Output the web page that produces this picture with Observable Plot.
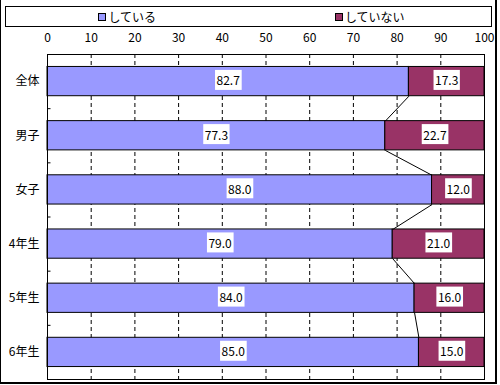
<!DOCTYPE html>
<html>
<head>
<meta charset="utf-8">
<script src="https://cdn.jsdelivr.net/npm/d3@7"></script>
<script src="https://cdn.jsdelivr.net/npm/@observablehq/plot@0.6"></script>
<style>
  html, body { margin: 0; padding: 0; background: #fff; }
  #wrap { position: relative; width: 500px; height: 385px; overflow: hidden; font-family: "Noto Sans CJK JP", sans-serif; }
  #wrap svg { position: absolute; left: 0; top: 0; }
  #legend { position: absolute; left: 5px; top: 6px; width: 487px; height: 21px; box-sizing: border-box; border: 1px solid #000; display: flex; background: #fff; }
  #legend .item { flex: 1; display: flex; align-items: center; justify-content: center; font-size: 12px; line-height: 1; }
  #legend .sw { width: 6px; height: 6px; border: 1px solid #000; margin-right: 2px; }
  #border { position: absolute; left: 0; top: -1px; width: 497px; height: 385px; box-sizing: border-box; border-left: 1px solid #000; border-top: 1px solid #000; border-right: 2px solid #000; border-bottom: 2px solid #000; pointer-events: none; }
</style>
</head>
<body>
<div id="wrap"></div>
<script>
const categories = ["全体", "男子", "女子", "4年生", "5年生", "6年生"];
const doing = [82.7, 77.3, 88.0, 79.0, 84.0, 85.0];
const notDoing = [17.3, 22.7, 12.0, 21.0, 16.0, 15.0];
const seriesNames = ["している", "していない"];
const seriesColors = ["#9999FF", "#993366"];
const xTicks = [0, 10, 20, 30, 40, 50, 60, 70, 80, 90, 100];

const n = categories.length;
const half = 0.27; // half bar thickness in category units

const segments = [];
categories.forEach((c, i) => {
  segments.push({i, cat: c, series: seriesNames[0], x1: 0, x2: doing[i], value: doing[i]});
  segments.push({i, cat: c, series: seriesNames[1], x1: doing[i], x2: doing[i] + notDoing[i], value: notDoing[i]});
});
const boundaries = d3.range(n - 1).map(i => i + 0.5);
const links = d3.range(n - 1).map(i => ({i}));

const svg = Plot.plot({
  width: 500,
  height: 385,
  marginLeft: 47,
  marginRight: 16,
  marginTop: 54,
  marginBottom: 6,
  style: { fontFamily: "'Noto Sans CJK JP', sans-serif", fontSize: "12px", background: "transparent", color: "#000" },
  x: { domain: [0, 100], axis: "top", ticks: xTicks, tickSize: 0, tickPadding: 13, label: null, tickFormat: d => d },
  y: { domain: [n - 0.5, -0.5], axis: null },
  color: { domain: seriesNames, range: seriesColors },
  marks: [
    Plot.ruleX(xTicks.filter(t => t > 0 && t < 100), { stroke: "#000", strokeDasharray: "4,3" }),
    Plot.ruleY(boundaries, { x1: 0, x2: 0.8, stroke: "#000" }),
    Plot.rect(segments, { x1: "x1", x2: "x2", y1: d => d.i - half, y2: d => d.i + half, fill: "series", stroke: "#000", strokeWidth: 1 }),
    Plot.link(links, { x1: d => doing[d.i], y1: d => d.i + half, x2: d => doing[d.i + 1], y2: d => d.i + 1 - half, stroke: "#000" }),
    Plot.text(segments, { x: d => (d.x1 + d.x2) / 2, y: "i", text: d => d.value.toFixed(1), fill: "#000", fontSize: 12 }),
    Plot.text(categories, { x: 0, y: (d, i) => i, text: d => d, textAnchor: "end", dx: -8, fill: "#000", fontSize: 12 }),
    Plot.frame({ stroke: "#000" })
  ]
});

const wrap = document.getElementById("wrap");
wrap.appendChild(svg);

// white boxes behind value labels
svg.querySelectorAll("text").forEach(t => {
  if (/^\d+\.\d$/.test(t.textContent)) {
    const b = t.getBBox();
    const r = document.createElementNS("http://www.w3.org/2000/svg", "rect");
    r.setAttribute("x", b.x - 1.5);
    r.setAttribute("width", b.width + 3);
    r.setAttribute("y", b.y + b.height / 2 - 10);
    r.setAttribute("height", 20);
    r.setAttribute("fill", "#fff");
    if (t.getAttribute("transform")) r.setAttribute("transform", t.getAttribute("transform"));
    t.parentNode.insertBefore(r, t);
  }
});

// legend
const legend = document.createElement("div");
legend.id = "legend";
seriesNames.forEach((s, k) => {
  const item = document.createElement("div");
  item.className = "item";
  const sw = document.createElement("span");
  sw.className = "sw";
  sw.style.background = seriesColors[k];
  const lab = document.createElement("span");
  lab.textContent = s;
  item.appendChild(sw);
  item.appendChild(lab);
  legend.appendChild(item);
});
wrap.appendChild(legend);

const border = document.createElement("div");
border.id = "border";
wrap.appendChild(border);
</script>
</body>
</html>
